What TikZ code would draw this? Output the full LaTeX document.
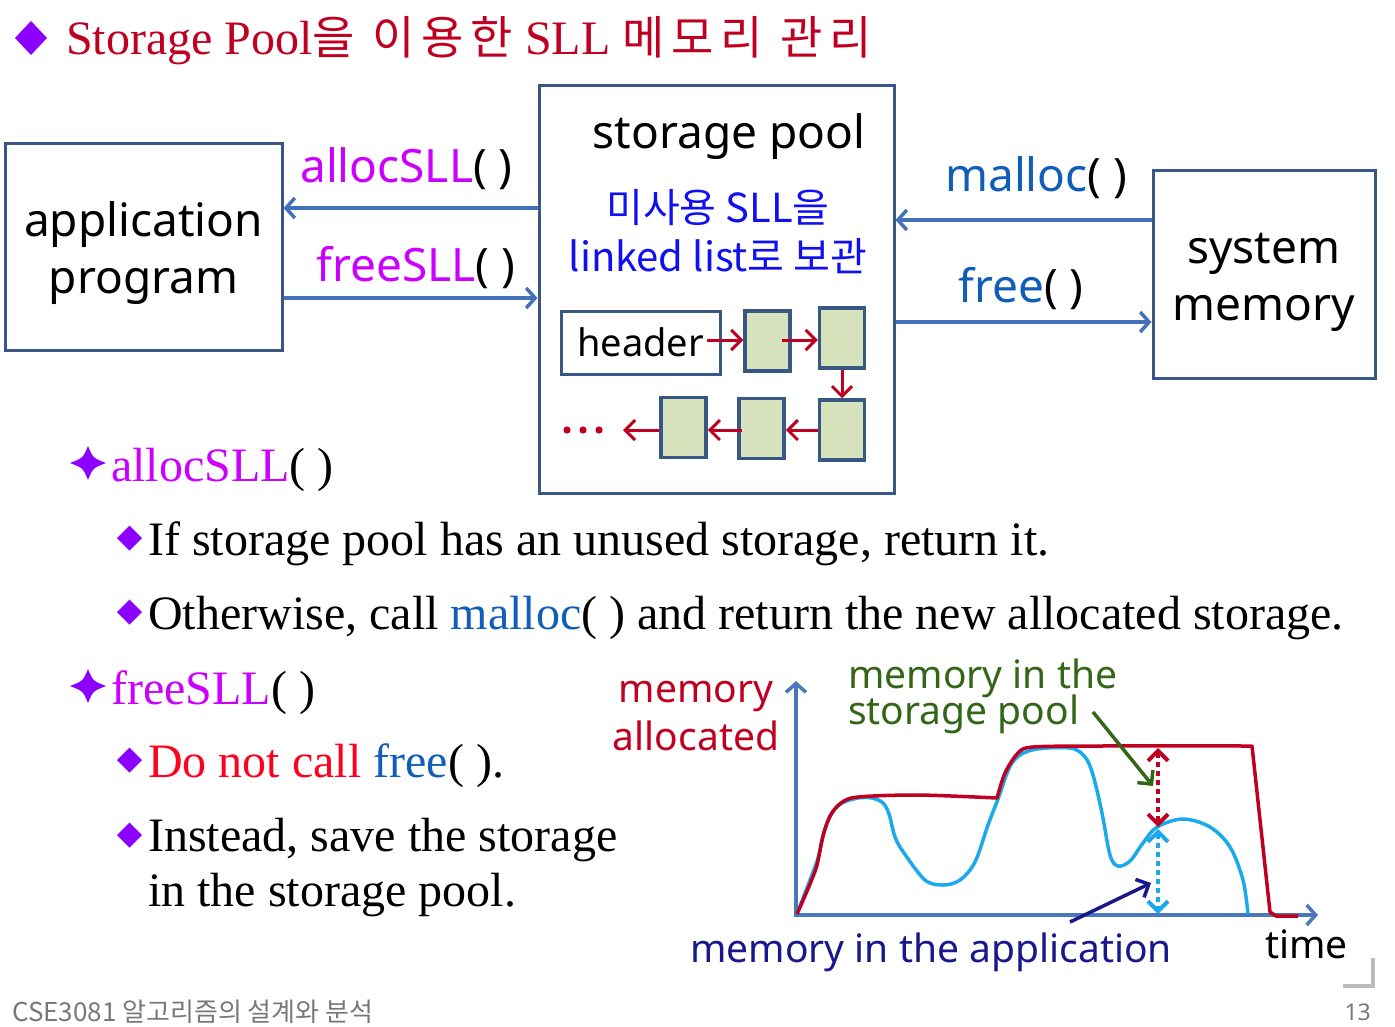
\documentclass[tikz,border=0pt]{standalone}
\usepackage{fontspec}
\setmainfont{Liberation Serif}
\newfontfamily\sansf{Noto Sans}
\newfontfamily\krf{Noto Sans CJK KR}
\newfontfamily\krwide{Noto Sans CJK KR}[LetterSpace=15]
\usetikzlibrary{arrows.meta}

\definecolor{boxblue}{RGB}{56,87,133}
\definecolor{linkblue}{RGB}{68,114,186}
\definecolor{fnpink}{RGB}{204,0,255}
\definecolor{callblue}{RGB}{16,94,184}
\definecolor{listred}{RGB}{192,0,32}
\definecolor{cellgreen}{RGB}{214,227,188}
\definecolor{bulletpurple}{RGB}{140,0,255}
\definecolor{warnred}{RGB}{255,0,30}
\definecolor{poolgreen}{RGB}{52,102,24}
\definecolor{appnavy}{RGB}{24,24,140}
\definecolor{curveblue}{RGB}{26,170,235}
\definecolor{axisblue}{RGB}{74,120,186}
\definecolor{krblue}{RGB}{16,16,240}
\definecolor{footgray}{RGB}{120,120,120}
\definecolor{markgray}{RGB}{187,187,187}

\newcommand\fs[2]{\fontsize{#1}{#2}\selectfont}

\begin{document}
\begin{tikzpicture}[x=1pt,y=-1pt,
  box/.style={draw=boxblue,line width=3pt,fill=white,inner sep=0pt},
  cell/.style={draw=boxblue,line width=3.5pt,fill=cellgreen,minimum width=45pt,minimum height=60pt,inner sep=0pt},
  flow/.style={draw=linkblue,line width=3.5pt,-{Straight Barb[length=9pt,width=20pt]}},
  link/.style={draw=listred,line width=3pt,-{Straight Barb[length=10pt,width=20pt]}},
  sanslbl/.style={font=\sansf\fs{46}{57},inner sep=0pt},
  boxtext/.style={font=\sansf\fs{46}{57},inner sep=0pt,align=center},
  serifln/.style={font=\fs{48}{58},inner sep=0pt,anchor=base west},
  gradlbl/.style={font=\sansf\fs{39}{48},inner sep=0pt},
  star/.style={fill=bulletpurple},
  diam/.style={fill=bulletpurple},
  dotarrow/.style={line width=4pt,dash pattern=on 5pt off 4pt,
    {Straight Barb[length=10pt,width=20pt]}-{Straight Barb[length=10pt,width=20pt]}}]

\useasboundingbox (0,0) rectangle (1395,1026);

% ---- title ----
\fill[diam] (31,21) -- (47,38) -- (31,55) -- (15,38) -- cycle;
\node[anchor=base west,inner sep=0pt,text=listred,font=\fs{48}{58}] (title) at (66,54)
  {Storage Pool{\krwide\fs{46}{54}을 이용한} SLL {\krwide\fs{46}{54}메모리 관리}};

% ---- boxes ----
\node[box,minimum width=277pt,minimum height=207pt] (app) at (143.5,246.5) {};
\node[boxtext] (apptext) at ([yshift=-7pt]app.center) {application\\program};
\node[box,minimum width=355pt,minimum height=408pt] (pool) at (716.5,289) {};
\node[box,minimum width=222pt,minimum height=208pt] (sys) at (1264,274) {};
\node[boxtext] (systext) at ([yshift=-8pt]sys.center) {system\\memory};

\node[sanslbl,anchor=base] (pooltitle) at (729,148) {storage pool};
\node[font=\krf\fs{40}{48},text=krblue,inner sep=0pt,anchor=base] (poolnote1) at (718,222) {미사용 SLL을};
\node[font=\krf\fs{40}{48},text=krblue,inner sep=0pt,anchor=base] (poolnote2) at (718,271) {linked list로 보관};

% ---- linked list inside the pool ----
\node[box,minimum width=159pt,minimum height=63pt,font=\sansf\fs{38}{46}] (header) at (640.5,342.5) {header};
\node[cell] (c1) at (767.5,341) {};
\node[cell] (c2) at (842,338) {};
\node[cell] (c3) at (842,430) {};
\node[cell] (c4) at (761.5,428.5) {};
\node[cell] (c5) at (683.5,427.5) {};
\coordinate (tailend) at (623,430);
\foreach \dx in {567,583,599} \fill[listred] (\dx,430) circle (3.6);

\draw[link] (707,340) -- (c1.west |- 0,340);
\draw[link] (782,340) -- (c2.west |- 0,340);
\draw[link] (c2.south) -- (c3.north);
\draw[link] (c3.west) -- (c4.east |- c3.west);
\draw[link] (742,430) -- (c5.east |- 0,430);
\draw[link] (c5.west |- 0,430) -- (tailend);

% ---- calls between the boxes ----
\draw[flow] (pool.west |- 0,208) -- (app.east |- 0,208);
\draw[flow] (app.east |- 0,298) -- (pool.west |- 0,298);
\draw[flow] (sys.west |- 0,220) -- (pool.east |- 0,220);
\draw[flow] (pool.east |- 0,322) -- (sys.west |- 0,322);

\node[sanslbl,anchor=base west] (lalloc) at (300,182) {\textcolor{fnpink}{allocSLL}( )};
\node[sanslbl,anchor=base west] (lfree) at (316,281) {\textcolor{fnpink}{freeSLL}( )};
\node[sanslbl,anchor=base west] (lmalloc) at (945,191) {\textcolor{callblue}{malloc}( )};
\node[sanslbl,anchor=base west] (lsysfree) at (958,302) {\textcolor{callblue}{free}( )};

% ---- bullet text ----
\fill[star] (88,446) .. controls (93,458) .. (106,463) .. controls (93,468) .. (88,480)
  .. controls (83,468) .. (70,463) .. controls (83,458) .. (88,446);
\node[serifln] (b1) at (111,481) {\textcolor{fnpink}{allocSLL}( )};
\fill[diam] (129.5,525.5) -- (142,538) -- (129.5,550.5) -- (117,538) -- cycle;
\node[serifln] (b11) at (148,555) {If storage pool has an unused storage, return it.};
\fill[diam] (129.5,599.5) -- (142,612) -- (129.5,624.5) -- (117,612) -- cycle;
\node[serifln] (b12) at (148,629) {Otherwise, call \textcolor{callblue}{malloc}( ) and return the new allocated storage.};

\fill[star] (88,669) .. controls (93,681) .. (106,686) .. controls (93,691) .. (88,703)
  .. controls (83,691) .. (70,686) .. controls (83,681) .. (88,669);
\node[serifln] (b2) at (111,704) {\textcolor{fnpink}{freeSLL}( )};
\fill[diam] (129.5,747.5) -- (142,760) -- (129.5,772.5) -- (117,760) -- cycle;
\node[serifln] (b21) at (148,777) {\textcolor{warnred}{Do not call} \textcolor{callblue}{free}( ).};
\fill[diam] (129.5,822.5) -- (142,835) -- (129.5,847.5) -- (117,835) -- cycle;
\node[serifln] (b22a) at (148,851) {Instead, save the storage};
\node[serifln] (b22b) at (148,906) {in the storage pool.};

% ---- memory usage graph ----
\coordinate (origin) at (796,915);
\coordinate (ytip) at (796,681);
\coordinate (xtip) at (1318,915);
\draw[axisblue,line width=3.5pt,{Straight Barb[length=9pt,width=20pt]}-{Straight Barb[length=9pt,width=20pt]}]
  (ytip) -- (origin) -- (xtip);

\draw[curveblue,line width=3.5pt,line join=round] plot[smooth,tension=0.55] coordinates {
  (797,914) (810,880) (818,858) (824,832) (832,813) (842,803) (858,798) (872,798)
  (883,803) (889,814) (895,837) (904,853) (925,880) (943,885) (960,880) (975,862)
  (988,825) (998,799) (1012,763) (1032,750) (1070,748) (1085,757) (1093,775)
  (1102,813) (1110,855) (1118,866) (1130,861) (1143,843) (1157,827) (1183,819)
  (1210,827) (1230,847) (1243,880) (1248,914)};

\draw[listred,line width=3.5pt,line join=round]
  plot[smooth,tension=0.5] coordinates {(797,914) (810,884) (817,865) (823,836) (830,816) (841,803) (858,797) (918,795) (997,798)}
  -- plot[smooth,tension=0.5] coordinates {(997,798) (1005,773) (1018,753) (1033,747) (1100,746) (1252,746)}
  -- (1270,912) -- (1276,916) -- (1298,916);

\coordinate (pooltop) at (1158,748);
\coordinate (poolbot) at (1158,827);
\coordinate (appbot) at (1158,914);
\draw[listred,dotarrow] (pooltop) -- (poolbot);
\draw[curveblue,dotarrow] ([yshift=-2pt]poolbot) -- (appbot);

\node[gradlbl,text=listred,anchor=base] (lmem) at (696,702) {memory};
\node[gradlbl,text=listred,anchor=base] (lalloced) at (696,750) {allocated};
\node[gradlbl,text=poolgreen,anchor=base west] (lpool1) at (848,688) {memory in the};
\node[gradlbl,text=poolgreen,anchor=base west] (lpool2) at (848,724) {storage pool};
\node[gradlbl,text=appnavy,anchor=base west] (lapp) at (690,962) {memory in the application};
\node[gradlbl,anchor=base west] (ltime) at (1265,958) {time};

\coordinate (poolarrowtail) at (1093,712);
\coordinate (poolarrowtip) at (1153,786);
\coordinate (apparrowtail) at (1070,922);
\coordinate (apparrowtip) at (1151,883);
\draw[poolgreen,line width=3.5pt,-{Straight Barb[length=10pt,width=20pt]}] (poolarrowtail) -- (poolarrowtip);
\draw[appnavy,line width=3.5pt,-{Straight Barb[length=10pt,width=20pt]}] (apparrowtail) -- (apparrowtip);

% ---- page footer ----
\draw[markgray,line width=4pt] (1343,986) -- (1373,986) -- (1373,958);
\node[anchor=base west,inner sep=0pt,text=footgray,font=\krf\fs{26}{30}] (footer) at (12,1021) {CSE3081 알고리즘의 설계와 분석};
\node[anchor=base east,inner sep=0pt,text=footgray,font=\sansf\fs{23}{28}] (pageno) at (1371,1020) {13};

\end{tikzpicture}
\end{document}
